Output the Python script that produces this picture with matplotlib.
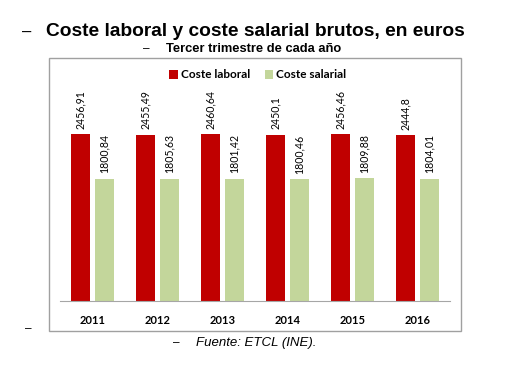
import numpy as np
import matplotlib.pyplot as plt
from matplotlib.patches import Rectangle

# datos: coste laboral y salarial, tercer trimestre
years = ['2011', '2012', '2013', '2014', '2015', '2016']
coste_laboral = [2456.91, 2455.49, 2460.64, 2450.1, 2456.46, 2444.8]
coste_salarial = [1800.84, 1805.63, 1801.42, 1800.46, 1809.88, 1804.01]

red = '#C00000'
green = '#C3D69B'
cfont = 'Lato'

fig = plt.figure(figsize=(5.06, 3.81), dpi=100)
ax = fig.add_axes([60/506, 1-301/381, 390/506, 203.4/381])

x = np.arange(len(years))
w = 0.29
b1 = ax.bar(x - w/2 - 0.035, coste_laboral, w, color=red, label='Coste laboral')
b2 = ax.bar(x + w/2 + 0.035, coste_salarial, w, color=green, label='Coste salarial')

def fmt(v):
    return ('%.2f' % v).rstrip('0').rstrip('.').replace('.', ',')

for bars, vals in ((b1, coste_laboral), (b2, coste_salarial)):
    for r, v in zip(bars, vals):
        ax.text(r.get_x() + r.get_width()/2, v + 80, fmt(v), rotation=90,
                ha='center', va='bottom', fontsize=7.6, family=cfont)

ax.set_xlim(-0.5, 5.5)
ax.set_ylim(0, 3000)
ax.set_yticks([])
ax.set_xticks(x)
ax.set_xticklabels(years, fontsize=8, fontweight='bold', family=cfont)
ax.tick_params(axis='x', length=0, pad=10)
for s in ['top', 'right', 'left']:
    ax.spines[s].set_visible(False)
ax.spines['bottom'].set_color('#A6A6A6')
ax.patch.set_alpha(0)

leg = fig.legend(handles=[b1, b2], loc='center', bbox_to_anchor=(258/506, 1-75/381),
                 ncol=2, frameon=False, handlelength=0.7, handleheight=0.7,
                 handletextpad=0.3, columnspacing=1.2,
                 prop={'family': cfont, 'weight': 'bold', 'size': 8.5})

# marco del grafico
fig.patches.append(Rectangle((49/506, 1-331/381), 412/506, 273/381,
                             transform=fig.transFigure, fill=False,
                             edgecolor='#A0A0A0', linewidth=1))

sans = 'Liberation Sans'
fig.text(22/506, 1-32/381, '–', fontsize=12, family=sans, va='center')
fig.text(46/506, 1-32/381, 'Coste laboral y coste salarial brutos, en euros',
         fontsize=13.8, fontweight='bold', family=sans, va='center')
fig.text(143/506, 1-49/381, '–', fontsize=8.5, family=sans, va='center')
fig.text(166/506, 1-49/381, 'Tercer trimestre de cada año',
         fontsize=9.3, fontweight='bold', family=sans, va='center')
fig.text(25/506, 1-329/381, '–', fontsize=8.5, family=sans, va='center')
fig.text(173/506, 1-343/381, '–', fontsize=8.5, family=sans, va='center')
fig.text(196/506, 1-343/381, 'Fuente: ETCL (INE).', fontsize=9.5,
         style='italic', family=sans, va='center')

plt.savefig('out.png', dpi=100)
